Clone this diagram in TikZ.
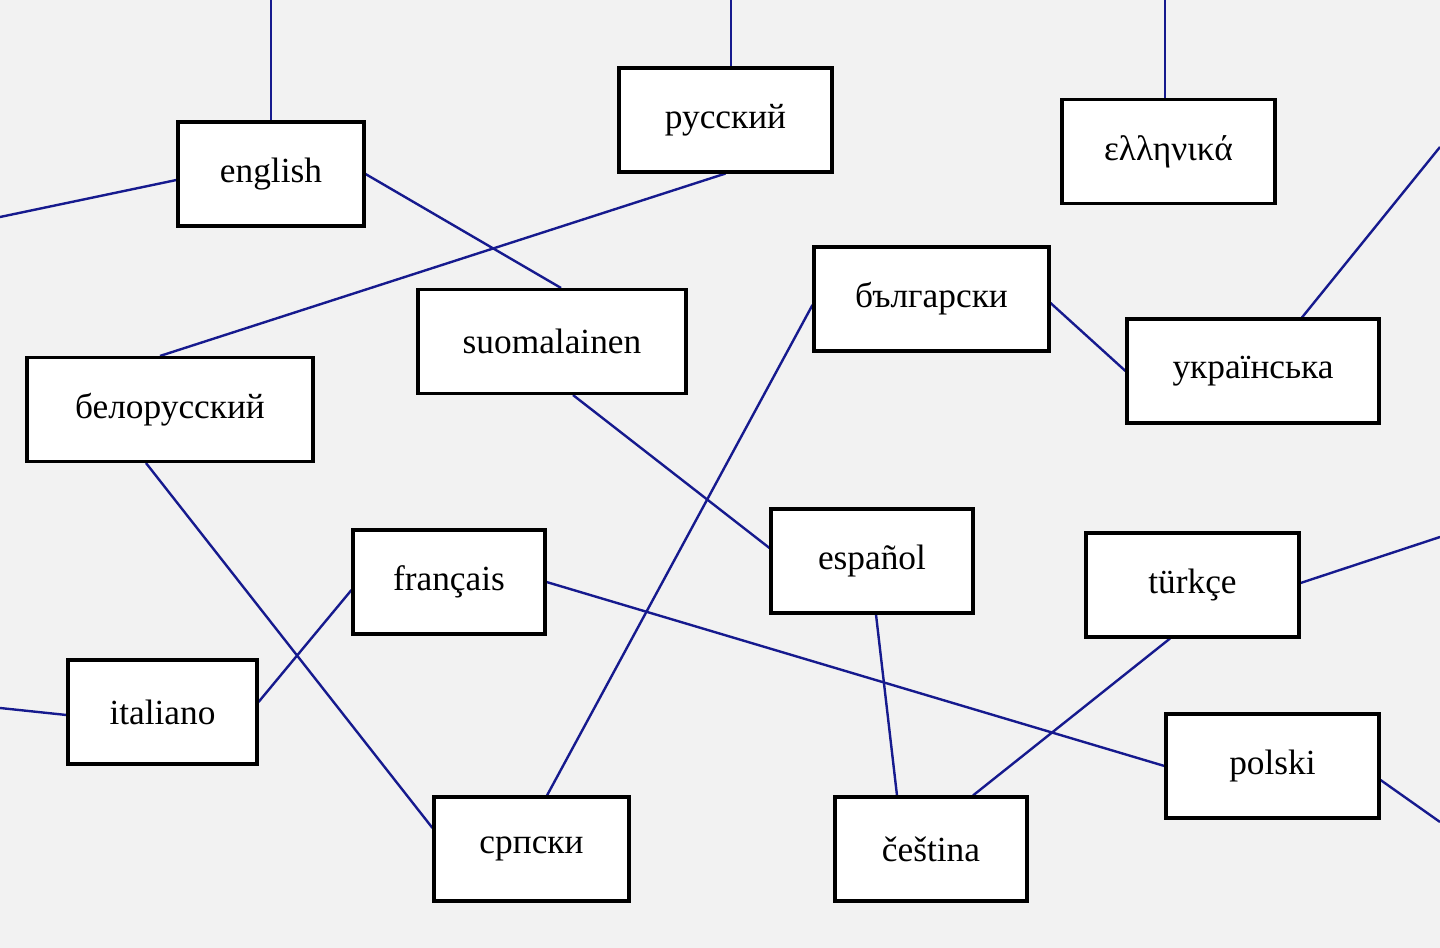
\documentclass[tikz,border=0pt]{standalone}
\usepackage{fontspec}
\setmainfont{Liberation Serif}
\usetikzlibrary{calc,backgrounds}
\definecolor{bgcol}{HTML}{F2F2F2}
\definecolor{linkcol}{HTML}{161A8E}
\begin{document}
\begin{tikzpicture}[x=0.75pt,y=-0.75pt,
  box/.style={draw=black,line width=2.3pt,fill=white,inner sep=0pt,minimum height=78pt,font=\fontsize{26.5}{30}\selectfont},
  link/.style={draw=linkcol,line width=1.8pt}]
\useasboundingbox (0,0) rectangle (1440,948);
\node[box,minimum width=139.5pt] (english) at (271,174) {english};
\node[box,minimum width=159.75pt] (russkiy) at (725.5,120) {русский};
\node[box,minimum width=159.75pt] (ellinika) at (1168.5,151.5) {ελληνικά};
\node[box,minimum width=176.25pt] (bulgarski) at (931.5,299) {български};
\node[box,minimum width=201pt] (suomi) at (552,341.5) {suomalainen};
\node[box,minimum width=189pt] (ukr) at (1253,371) {українська};
\node[box,minimum width=214.5pt] (bel) at (170,409.5) {белорусский};
\node[box,minimum width=144pt] (fr) at (449,582) {français};
\node[box,minimum width=151.5pt] (es) at (872,561) {español};
\node[box,minimum width=159.75pt] (tr) at (1192.5,585) {türkçe};
\node[box,minimum width=141.75pt] (it) at (162.5,712) {italiano};
\node[box,minimum width=159.75pt] (pl) at (1272.5,766) {polski};
\node[box,minimum width=146.25pt] (sr) at (531.5,849) {српски};
\node[box,minimum width=144pt] (cs) at (931,849) {čeština};
\coordinate (f1) at (271,0);
\coordinate (f2) at (0,217);
\coordinate (f3) at (731,0);
\coordinate (f4) at (1165,0);
\coordinate (f5) at (1440,147);
\coordinate (f6) at (0,708);
\coordinate (f7) at (1440,537);
\coordinate (f8) at (1440,822);
\begin{pgfonlayer}{background}
\fill[bgcol] (0,0) rectangle (1440,948);
\draw[link] (english.north) -- (f1);
\draw[link] ($(english.west)+(0,6)$) -- (f2);
\draw[link] (english.east) -- ($(suomi.north)+(9,0)$);
\draw[link] (russkiy.south) -- ($(bel.north)+(-10,0)$);
\draw[link] ($(russkiy.north)+(5.5,0)$) -- (f3);
\draw[link] ($(ellinika.north)+(-3.5,0)$) -- (f4);
\draw[link] ($(bulgarski.west)+(0,6)$) -- ($(sr.north)+(15.5,0)$);
\draw[link] ($(bulgarski.east)+(0,4)$) -- (ukr.west);
\draw[link] ($(ukr.north)+(49,0)$) -- (f5);
\draw[link] ($(suomi.south)+(21,0)$) -- ($(es.west)+(0,-13)$);
\draw[link] ($(bel.south)+(-24,0)$) -- ($(sr.west)+(0,-21)$);
\draw[link] ($(fr.west)+(0,8)$) -- ($(it.east)+(0,-10)$);
\draw[link] (fr.east) -- (pl.west);
\draw[link] ($(it.west)+(0,3)$) -- (f6);
\draw[link] ($(es.south)+(4,0)$) -- ($(cs.north)+(-34,0)$);
\draw[link] ($(tr.east)+(0,-2)$) -- (f7);
\draw[link] ($(tr.south)+(-22.5,0)$) -- ($(cs.north)+(42,0)$);
\draw[link] ($(pl.east)+(0,14)$) -- (f8);
\end{pgfonlayer}
\end{tikzpicture}
\end{document}
